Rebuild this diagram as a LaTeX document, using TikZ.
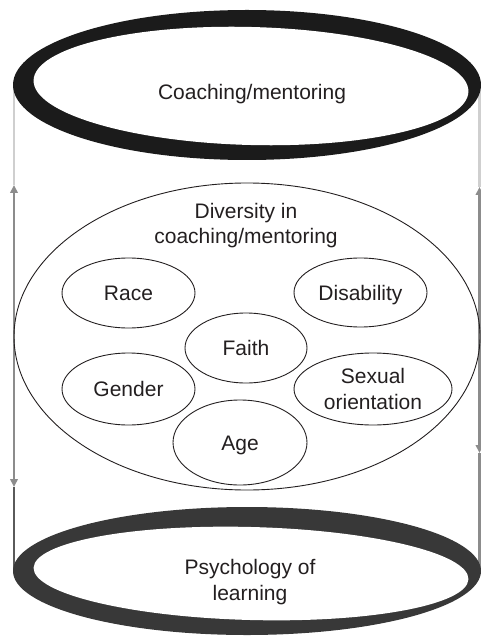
\documentclass[tikz,border=0pt]{standalone}
\usepackage{fontspec}
\setmainfont{Liberation Sans}
\usetikzlibrary{arrows.meta,shapes.geometric}
\definecolor{ink}{HTML}{231F20}
\definecolor{ringtop}{HTML}{1B1B1B}
\definecolor{ringbot}{HTML}{383838}
\definecolor{railpale}{HTML}{CFCFCF}
\definecolor{railmid}{HTML}{8C8C8C}
\definecolor{raildark}{HTML}{5A5A5A}
\begin{document}
\begin{tikzpicture}[x=1pt,y=-1pt,
  >={Triangle[width=7.5pt,length=8pt]},
  words/.style={font=\fontsize{21}{25.5}\selectfont, text=ink, inner sep=0pt, align=center},
  bubble/.style={words, draw=ink, line width=0.9pt, ellipse, text height=15pt, text depth=0pt},
  field/.style={draw=ink, line width=0.9pt, ellipse, inner sep=0pt},
  rail/.style={line width=2.6pt},
  twoway/.style={<->}]
\useasboundingbox (0,0) rectangle (481,636);

% rail coordinates along the two sides of the cylinder
\coordinate (lt)  at (14,88);
\coordinate (la1) at (14,185);
\coordinate (la2) at (14,487);
\coordinate (lb)  at (14,571);
\coordinate (rt)  at (479.5,90);
\coordinate (ra1) at (479.5,187);
\coordinate (ra2) at (479.5,453);
\coordinate (rb)  at (479.5,570);

% side rails
\draw[rail, railpale] (lt) -- (la1);
\draw[rail, railmid, twoway] (la1) -- (la2);
\draw[rail, raildark] (la2) -- (lb);
\draw[rail, railpale] (rt) -- (ra1);
\draw[rail, railmid, twoway] (ra1) -- (ra2);
\draw[rail, railmid] (ra2) -- (rb);

% central field and its topics
\node[field, minimum width=466pt, minimum height=307pt] (field) at (247,336.5) {};
\node[words] (title) at (246,225.8) {Diversity in\\coaching/mentoring};
\node[bubble, minimum width=133pt, minimum height=70pt] (race) at (128.5,293) {Race};
\node[bubble, minimum width=133pt, minimum height=69pt] (disab) at (360.5,292.5) {Disability};
\node[bubble, minimum width=122pt, minimum height=70pt] (faith) at (246,348) {Faith};
\node[bubble, minimum width=133pt, minimum height=72pt] (gender) at (128.5,389) {Gender};
\node[words, draw=ink, line width=0.9pt, ellipse, minimum width=158pt, minimum height=72pt] (sexual) at (373,389) {Sexual\\orientation};
\node[bubble, minimum width=134pt, minimum height=85pt] (age) at (240,442.5) {Age};

% top ring
\fill[ringtop] (247,85) ellipse [x radius=234pt, y radius=75pt];
\fill[white, rotate around={-1.5:(251,86)}] (251,86) ellipse [x radius=217.5pt, y radius=59pt];
\node[words, anchor=base] (coach) at (252,99.5) {Coaching/mentoring};

% bottom ring
\fill[ringbot] (247,571) ellipse [x radius=234pt, y radius=64pt];
\fill[white, rotate around={-1.5:(251,573.5)}] (251,573.5) ellipse [x radius=217.5pt, y radius=46.5pt];
\node[words] (learn) at (250,582) {Psychology of\\learning};
\end{tikzpicture}
\end{document}
